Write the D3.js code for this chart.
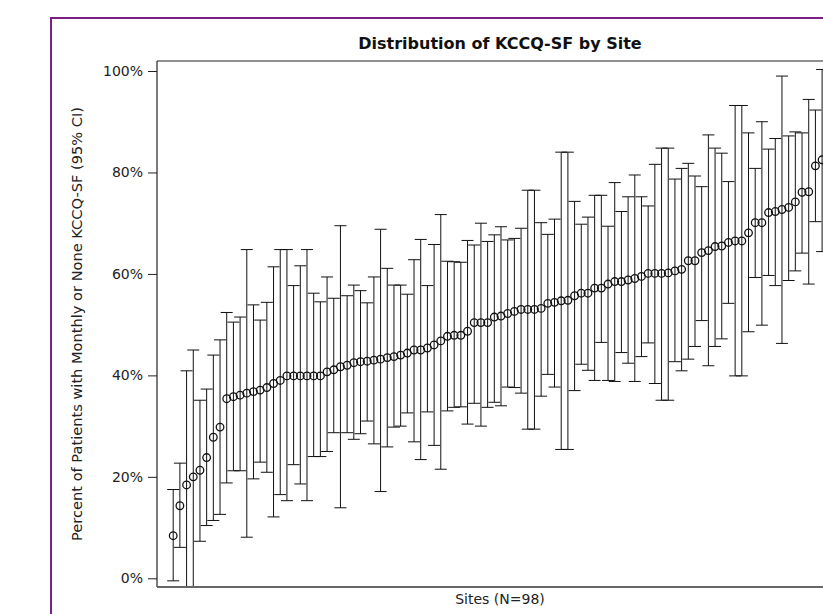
<!DOCTYPE html>
<html>
<head>
<meta charset="utf-8">
<script src="https://cdn.jsdelivr.net/npm/d3@7"></script>
<style>
  html, body { margin: 0; padding: 0; background: #fff; overflow: hidden; }
  svg { display: block; }
</style>
</head>
<body>
<svg id="chart" width="823" height="614"></svg>
<script>
// ---- data ----
const sites = d3.range(1, 99); // 98 sites, sorted by estimate
const estimate = [
  8.4, 14.3, 18.4, 20.0, 21.3, 23.8, 27.8, 29.8, 35.4, 35.8,
  36.1, 36.5, 36.8, 37.1, 37.6, 38.4, 39.0, 39.9, 39.9, 39.9,
  39.9, 39.9, 39.9, 40.7, 41.1, 41.7, 42.0, 42.5, 42.7, 42.8,
  43.0, 43.2, 43.5, 43.7, 44.0, 44.4, 45.0, 45.0, 45.4, 46.0,
  46.8, 47.7, 47.9, 47.9, 48.7, 50.4, 50.4, 50.4, 51.5, 51.7,
  52.2, 52.6, 53.0, 53.0, 53.0, 53.2, 54.2, 54.4, 54.7, 54.8,
  55.7, 56.2, 56.2, 57.2, 57.2, 58.0, 58.5, 58.5, 58.8, 59.1,
  59.5, 60.1, 60.1, 60.1, 60.2, 60.6, 60.9, 62.6, 62.6, 64.2,
  64.6, 65.4, 65.5, 66.2, 66.5, 66.5, 68.1, 70.1, 70.1, 72.1,
  72.3, 72.7, 73.1, 74.2, 76.1, 76.2, 81.3, 82.5
];
const upperCI = [
  17.5, 22.7, 40.9, 45.0, 35.1, 37.3, 44.0, 47.0, 52.4, 50.5,
  51.5, 64.8, 53.9, 50.9, 54.4, 61.4, 64.8, 64.8, 57.7, 61.6,
  64.8, 56.2, 54.5, 59.4, 55.2, 69.5, 55.7, 57.8, 56.7, 54.3,
  59.4, 68.8, 61.1, 57.8, 57.8, 56.0, 62.8, 66.8, 57.7, 65.8,
  71.7, 62.5, 62.4, 62.3, 66.6, 65.7, 70.0, 66.4, 67.7, 69.3,
  66.7, 67.0, 69.0, 76.5, 76.5, 70.1, 67.8, 70.8, 84.0, 84.0,
  74.3, 69.8, 71.2, 75.5, 75.5, 69.4, 78.0, 72.3, 75.2, 79.5,
  75.2, 73.4, 81.6, 84.8, 84.8, 78.7, 80.8, 81.8, 79.3, 77.2,
  87.4, 84.8, 83.8, 78.2, 93.2, 93.2, 87.8, 80.8, 90.0, 84.6,
  86.7, 99.0, 87.2, 88.0, 87.8, 94.4, 92.3, 100.3
];
const lowerCI = [
  -0.5, 6.1, -5.0, -5.0, 7.3, 10.4, 11.4, 12.6, 18.8, 21.2,
  21.2, 8.1, 19.6, 22.9, 20.9, 12.1, 16.5, 15.3, 22.4, 18.6,
  15.3, 24.0, 24.0, 25.0, 28.7, 13.9, 28.7, 27.4, 28.5, 31.0,
  26.5, 17.1, 25.9, 29.8, 30.0, 32.6, 26.9, 23.4, 32.8, 26.2,
  21.5, 33.0, 33.7, 33.8, 30.4, 34.5, 30.0, 33.7, 34.7, 34.0,
  37.7, 37.6, 36.5, 29.4, 29.4, 35.9, 40.2, 37.7, 25.4, 25.4,
  37.0, 42.2, 41.0, 39.0, 46.5, 39.0, 38.8, 44.5, 42.4, 38.8,
  43.7, 46.4, 38.4, 35.1, 35.1, 42.7, 40.9, 43.2, 45.7, 50.8,
  41.9, 45.7, 47.2, 54.2, 39.9, 39.9, 48.6, 59.3, 49.9, 59.7,
  57.7, 46.3, 58.7, 60.6, 64.1, 58.0, 70.3, 64.4
];
const yTicks = [0, 20, 40, 60, 80, 100];
const titleText = "Distribution of KCCQ-SF by Site";
const xLabel = "Sites (N=98)";
const yLabel = "Percent of Patients with Monthly or None KCCQ-SF (95% CI)";

// ---- layout ----
const svg = d3.select("#chart");
const font = "'DejaVu Sans', Verdana, sans-serif";
const plot = { left: 157, top: 61, right: 843, bottom: 587 };

// outer purple frame (extends past the window on the right and bottom)
svg.append("rect")
  .attr("x", 51).attr("y", 18)
  .attr("width", 900).attr("height", 700)
  .attr("fill", "#fff")
  .attr("stroke", "#7b1f87").attr("stroke-width", 2);

const y = d3.scaleLinear().domain([0, 100]).range([578.3, 71]);
const x = d3.scalePoint().domain(sites).range([173.2, 822.1]);

const rows = sites.map((s, i) => ({ site: s, est: estimate[i], lo: lowerCI[i], hi: upperCI[i] }));

// clip
svg.append("defs").append("clipPath").attr("id", "plotClip")
  .append("rect")
  .attr("x", plot.left).attr("y", plot.top)
  .attr("width", plot.right - plot.left).attr("height", plot.bottom - plot.top);

// title
svg.append("text")
  .attr("x", (plot.left + plot.right) / 2).attr("y", 49)
  .attr("text-anchor", "middle")
  .attr("font-family", font).attr("font-weight", "bold").attr("font-size", 16)
  .attr("fill", "#111")
  .text(titleText);

// y axis
const yAxis = d3.axisLeft(y).tickValues(yTicks).tickFormat(d => d + "%")
  .tickSize(9).tickSizeOuter(0).tickPadding(5);
const gy = svg.append("g").attr("transform", `translate(${plot.left},0)`).call(yAxis);
gy.select(".domain").remove();
gy.selectAll(".tick line").attr("stroke", "#222");
gy.selectAll(".tick text").attr("font-family", font).attr("font-size", 14).attr("fill", "#222");

// y label
svg.append("text")
  .attr("transform", `translate(82,${(plot.top + plot.bottom) / 2}) rotate(-90)`)
  .attr("text-anchor", "middle")
  .attr("font-family", font).attr("font-size", 14.6).attr("fill", "#222")
  .text(yLabel);

// x label
svg.append("text")
  .attr("x", (plot.left + plot.right) / 2).attr("y", 604)
  .attr("text-anchor", "middle")
  .attr("font-family", font).attr("font-size", 14).attr("fill", "#222")
  .text(xLabel);

// error bars + markers
const g = svg.append("g").attr("clip-path", "url(#plotClip)");
const cap = 6;
g.selectAll("line.bar").data(rows).join("line").attr("class", "bar")
  .attr("x1", d => x(d.site)).attr("x2", d => x(d.site))
  .attr("y1", d => y(d.hi)).attr("y2", d => y(d.lo))
  .attr("stroke", "#111").attr("stroke-width", 1);
g.selectAll("line.capHi").data(rows).join("line").attr("class", "capHi")
  .attr("x1", d => x(d.site) - cap).attr("x2", d => x(d.site) + cap)
  .attr("y1", d => y(d.hi)).attr("y2", d => y(d.hi))
  .attr("stroke", "#111").attr("stroke-width", 1);
g.selectAll("line.capLo").data(rows).join("line").attr("class", "capLo")
  .attr("x1", d => x(d.site) - cap).attr("x2", d => x(d.site) + cap)
  .attr("y1", d => y(d.lo)).attr("y2", d => y(d.lo))
  .attr("stroke", "#111").attr("stroke-width", 1);
g.selectAll("circle").data(rows).join("circle")
  .attr("cx", d => x(d.site)).attr("cy", d => y(d.est)).attr("r", 3.8)
  .attr("fill", "none").attr("stroke", "#111").attr("stroke-width", 1.3);

// plot frame
svg.append("line").attr("x1", plot.left).attr("x2", 900).attr("y1", plot.top).attr("y2", plot.top)
  .attr("stroke", "#222").attr("stroke-width", 1.2);
svg.append("line").attr("x1", plot.left).attr("x2", plot.left).attr("y1", plot.top).attr("y2", plot.bottom)
  .attr("stroke", "#222").attr("stroke-width", 1.2);
svg.append("line").attr("x1", plot.left).attr("x2", 900).attr("y1", plot.bottom).attr("y2", plot.bottom)
  .attr("stroke", "#666").attr("stroke-width", 2);
</script>
</body>
</html>
